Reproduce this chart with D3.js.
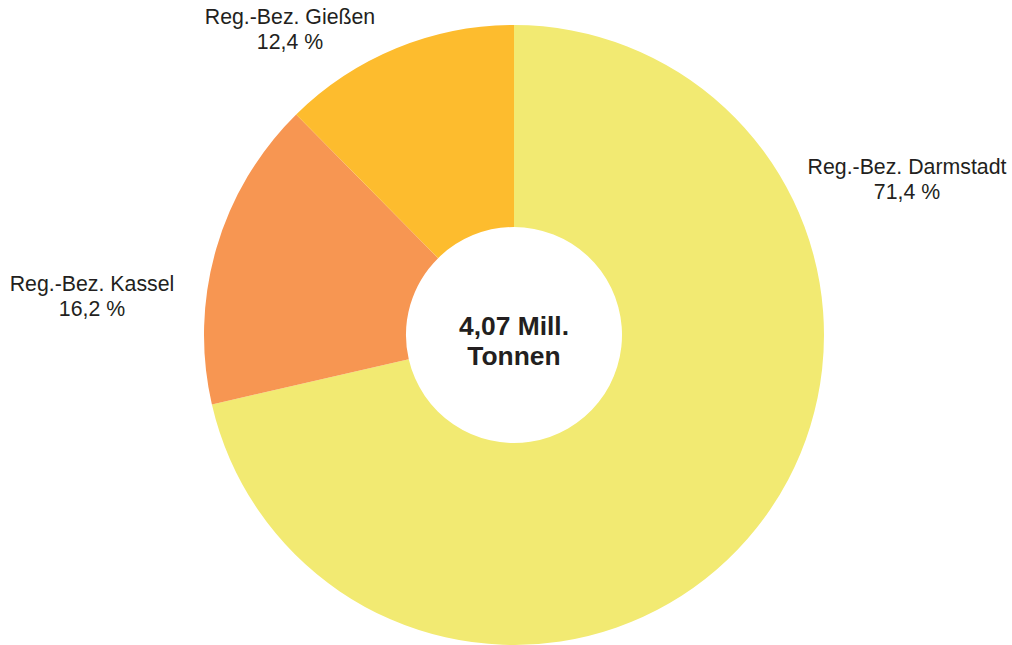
<!DOCTYPE html>
<html>
<head>
<meta charset="utf-8">
<script src="https://cdn.jsdelivr.net/npm/d3@7"></script>
<style>
  html, body { margin: 0; padding: 0; background: #fff; }
  svg { display: block; }
</style>
</head>
<body>
<svg id="chart" width="1012" height="645"></svg>
<script>
// Regierungsbezirke and their shares (%)
const regions = ["Reg.-Bez. Darmstadt", "Reg.-Bez. Kassel", "Reg.-Bez. Gießen"];
const shares = [71.4, 16.2, 12.4];
const percentLabels = ["71,4 %", "16,2 %", "12,4 %"];
const colors = ["#F2EA72", "#F79652", "#FDBC2E"];
const centerLines = ["4,07 Mill.", "Tonnen"];

const W = 1012, H = 645;
const cx = 514, cy = 335;
const outerR = 310, innerR = 108;

// label anchor points (centre of the first text line) for each region
const labelPos = [[907, 174], [92, 291], [290, 24]];

const svg = d3.select("#chart");
const g = svg.append("g").attr("transform", `translate(${cx},${cy})`);

const pie = d3.pie().sort(null).value(d => d);
const arc = d3.arc().innerRadius(innerR).outerRadius(outerR);
const arcs = pie(shares);

g.selectAll("path.slice")
  .data(arcs)
  .join("path")
  .attr("class", "slice")
  .attr("d", arc)
  .attr("fill", (d, i) => colors[i]);

const font = "'Liberation Sans', Arial, Helvetica, sans-serif";

const labels = svg.selectAll("text.lbl")
  .data(regions)
  .join("text")
  .attr("class", "lbl")
  .attr("text-anchor", "middle")
  .attr("font-family", font)
  .attr("font-size", 21.3)
  .attr("fill", "#231f20");

labels.append("tspan")
  .attr("x", (d, i) => labelPos[i][0])
  .attr("y", (d, i) => labelPos[i][1])
  .text(d => d);
labels.append("tspan")
  .attr("x", (d, i) => labelPos[i][0])
  .attr("y", (d, i) => labelPos[i][1] + 24.5)
  .text((d, i) => percentLabels[i]);

svg.append("text")
  .attr("text-anchor", "middle")
  .attr("font-family", font)
  .attr("font-size", 26.4)
  .attr("font-weight", "bold")
  .attr("fill", "#231f20")
  .selectAll("tspan")
  .data(centerLines)
  .join("tspan")
  .attr("x", cx)
  .attr("y", (d, i) => 335 + i * 30)
  .text(d => d);
</script>
</body>
</html>
